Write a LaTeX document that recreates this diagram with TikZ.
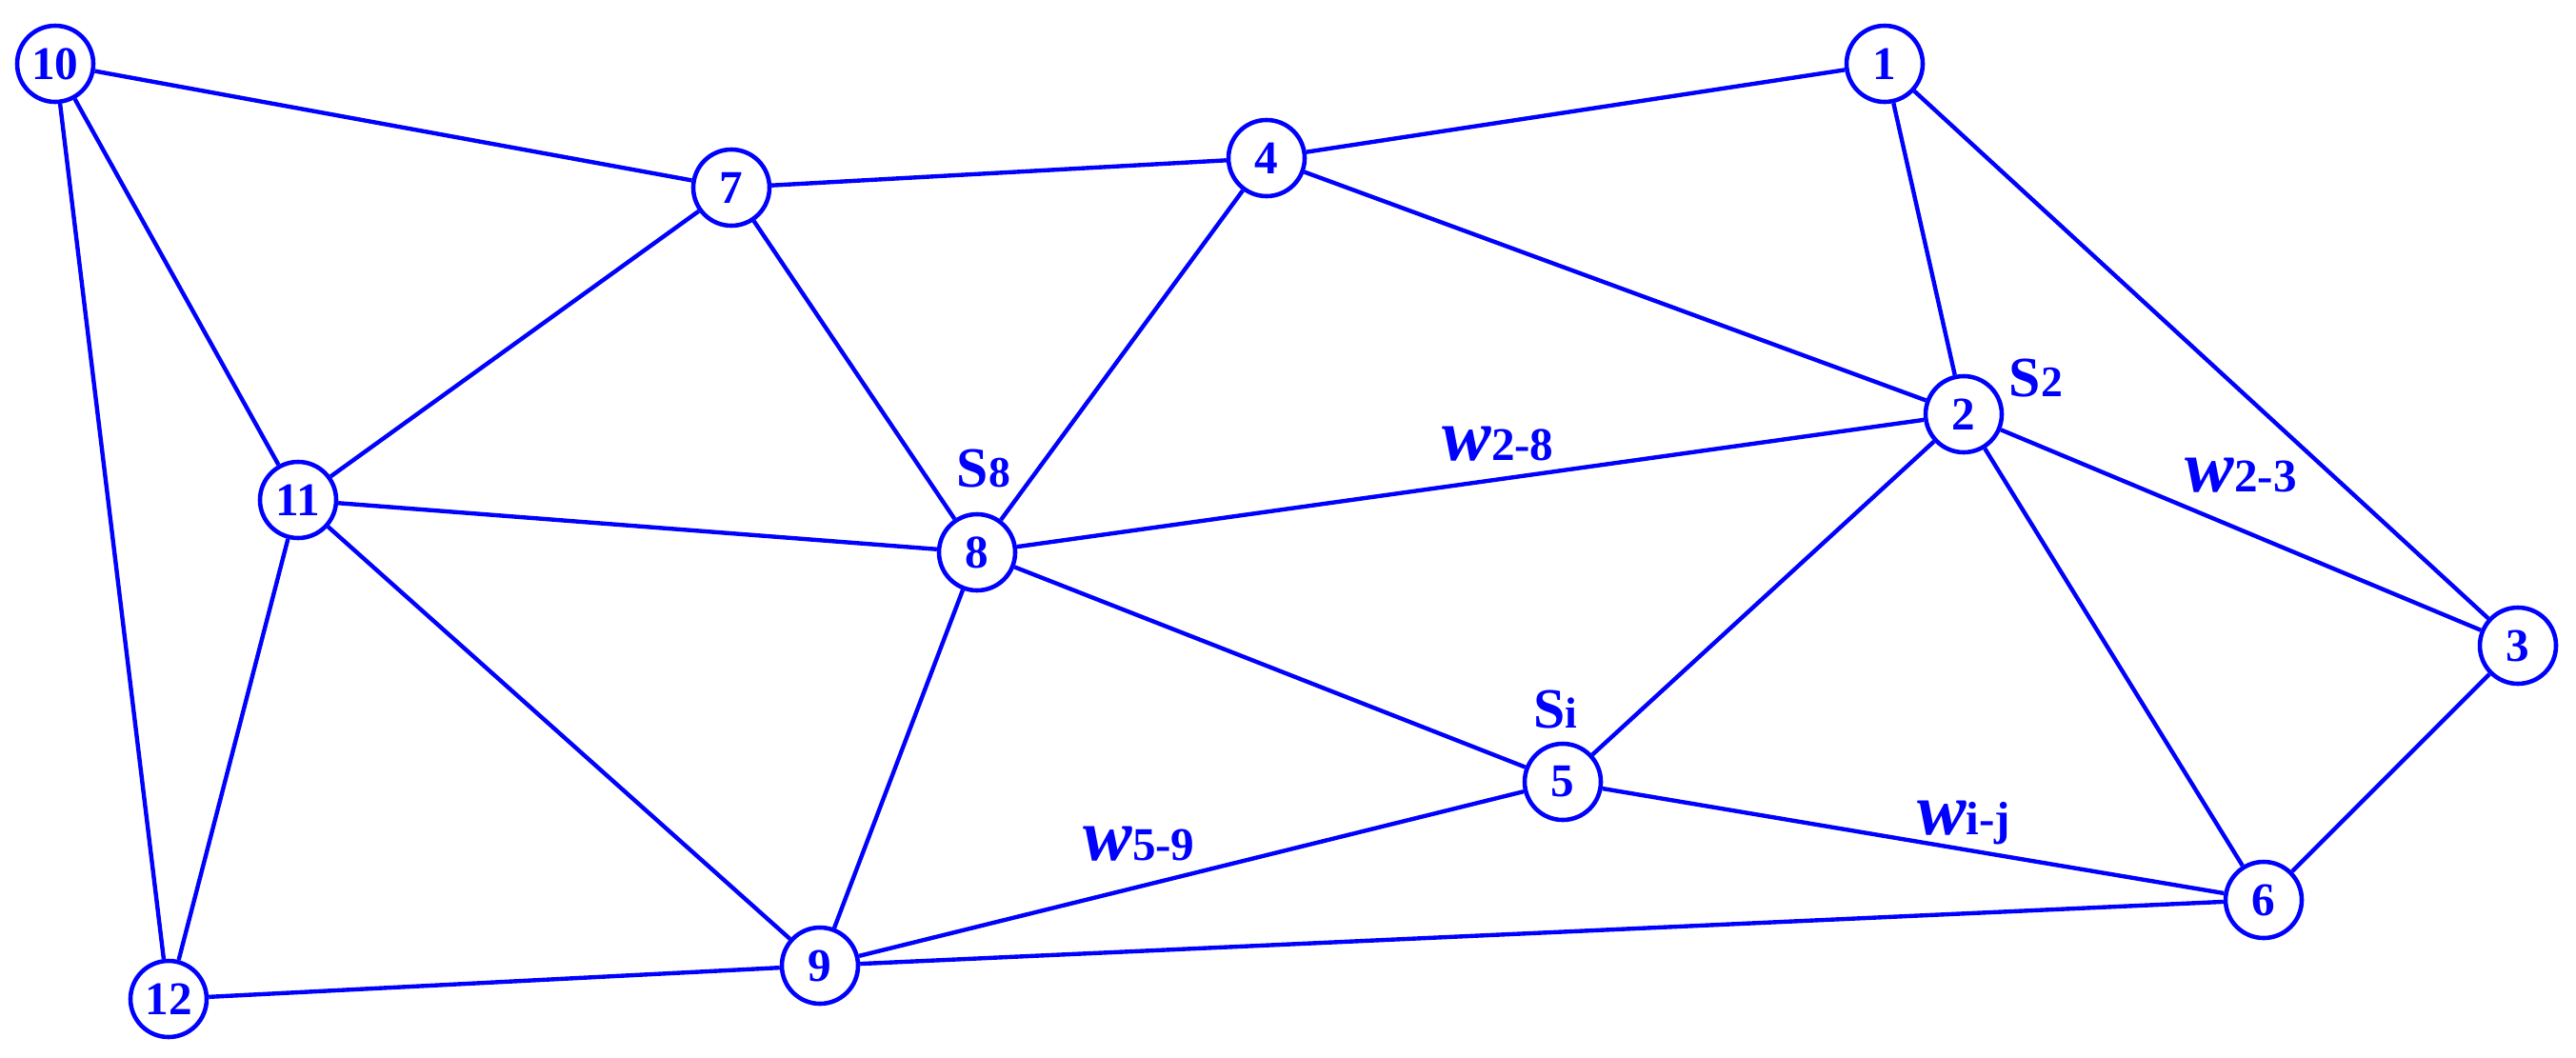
\documentclass[tikz,border=0pt]{standalone}
\usepackage{fontspec}
\setmainfont{Liberation Serif}
\newcommand{\slab}[2]{{\fontsize{17}{17}\selectfont\bfseries #1\fontsize{13}{13}\selectfont #2}}
\newcommand{\wlab}[1]{{\fontsize{22}{22}\selectfont\bfseries\itshape w\fontsize{14}{14}\selectfont\upshape #1}}
\begin{document}
\begin{tikzpicture}[
  vtx/.style={circle, draw=blue, line width=1.3pt, fill=white, minimum size=0.8cm, inner sep=0pt,
              text=blue, font=\fontsize{14}{14}\selectfont\bfseries},
  lbl/.style={text=blue, inner sep=0pt},
  edge/.style={draw=blue, line width=1.25pt}
]
\useasboundingbox (0,0) rectangle (27.05,11.10);
\node[vtx] (n1)  at (19.79,10.43) {1};
\node[vtx] (n2)  at (20.62,6.75) {2};
\node[vtx] (n3)  at (26.44,4.32) {3};
\node[vtx] (n4)  at (13.30,9.44) {4};
\node[vtx] (n5)  at (16.41,2.89) {5};
\node[vtx] (n6)  at (23.77,1.65) {6};
\node[vtx] (n7)  at (7.68,9.13) {7};
\node[vtx] (n8)  at (10.26,5.30) {8};
\node[vtx] (n9)  at (8.61,0.96) {9};
\node[vtx] (n10) at (0.58,10.43) {10};
\node[vtx] (n11) at (3.13,5.85) {11};
\node[vtx] (n12) at (1.77,0.61) {12};
\foreach \a/\b in {n10/n7, n10/n11, n10/n12, n7/n4, n4/n1, n1/n2, n1/n3, n4/n2, n4/n8, n7/n8,
                   n7/n11, n11/n8, n11/n12, n11/n9, n8/n2, n8/n5, n8/n9, n2/n5, n2/n6, n2/n3,
                   n3/n6, n5/n9, n5/n6, n9/n6, n12/n9}
  \draw[edge] (\a) -- (\b);
\node[lbl] (s2) at (21.38,7.13) {\slab{S}{2}};
\node[lbl] (s8) at (10.33,6.18) {\slab{S}{8}};
\node[lbl] (si) at (16.33,3.65) {\slab{S}{i}};
\node[lbl] (w28) at (15.73,6.44) {\wlab{2-8}};
\node[lbl] (w23) at (23.53,6.11) {\wlab{2-3}};
\node[lbl] (w59) at (11.96,2.24) {\wlab{5-9}};
\node[lbl] (wij) at (20.62,2.46) {\wlab{i-j}};
\end{tikzpicture}
\end{document}
